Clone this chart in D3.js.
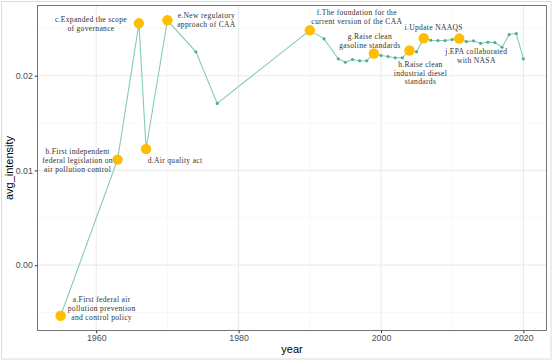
<!DOCTYPE html>
<html><head><meta charset="utf-8">
<script src="https://cdn.jsdelivr.net/npm/d3@7"></script>
<style>body{margin:0;background:#fff}svg{display:block}</style>
</head><body>
<svg id="c" width="553" height="361"></svg>
<script>
const years = [1955,1963,1966,1967,1970,1974,1977,1990,1992,1994,1995,1996,1997,1998,1999,2000,2001,2002,2003,2004,2005,2006,2007,2008,2009,2010,2011,2012,2013,2014,2015,2016,2017,2018,2019,2020];
const values = [-0.00534,0.01114,0.02553,0.01226,0.02585,0.02252,0.01707,0.02479,0.02389,0.02178,0.02142,0.02171,0.02157,0.02157,0.02234,0.02213,0.02202,0.02189,0.02189,0.02266,0.02252,0.02395,0.02374,0.02371,0.02371,0.02381,0.02392,0.02360,0.02368,0.02342,0.02353,0.02350,0.02300,0.02434,0.02445,0.02178];
const eventYears = [1955,1963,1966,1967,1970,1990,1999,2004,2006,2011];
const eventLabels = [
  ["a.First federal air","pollution prevention","and control policy"],
  ["b.First independent","federal legislation on","air pollution control"],
  ["c.Expanded the scope","of governance"],
  ["d.Air quality act"],
  ["e.New regulatory","approach of CAA"],
  ["f.The foundation for the","current version of the CAA"],
  ["g.Raise clean","gasoline standards"],
  ["h.Raise clean","industrial diesel","standards"],
  ["i.Update NAAQS"],
  ["j.EPA collaborated","with NASA"]
];
// label anchor offsets (px) relative to the event point: [dx, dy of first line center]
const labelOffsets = [[41,-16],[-40,-8],[-48,-4],[29,11],[39,-5],[47,-18],[-4,-17],[11,14],[10,-11],[17,13]];
const xTicks = [1960,1980,2000,2020];
const xMinor = [1970,1990,2010];
const yTicks = [0,0.01,0.02];
const yMinor = [-0.005,0.005,0.015,0.025];

const svg = d3.select("#c");
const L=37.5, R=546.5, T=5.5, B=330.5;
const xr = d3.extent(years), xe=(xr[1]-xr[0])*0.05;
const yr = d3.extent(values), ye=(yr[1]-yr[0])*0.05;
const x = d3.scaleLinear().domain([xr[0]-xe, xr[1]+xe]).range([L,R]);
const y = d3.scaleLinear().domain([yr[0]-ye, yr[1]+ye]).range([B,T]);

svg.append("rect").attr("x",1.5).attr("y",1.5).attr("width",549.5).attr("height",357.5)
  .attr("fill","#fff").attr("stroke","#dcdcdc");

const g = svg.append("g");
g.selectAll(".vm").data(xMinor).join("line").attr("x1",d=>x(d)).attr("x2",d=>x(d)).attr("y1",T).attr("y2",B).attr("stroke","#f2f2f2").attr("stroke-width",0.6);
g.selectAll(".hm").data(yMinor).join("line").attr("y1",d=>y(d)).attr("y2",d=>y(d)).attr("x1",L).attr("x2",R).attr("stroke","#f2f2f2").attr("stroke-width",0.6);
g.selectAll(".vM").data(xTicks).join("line").attr("x1",d=>x(d)).attr("x2",d=>x(d)).attr("y1",T).attr("y2",B).attr("stroke","#ebebeb").attr("stroke-width",1.1);
g.selectAll(".hM").data(yTicks).join("line").attr("y1",d=>y(d)).attr("y2",d=>y(d)).attr("x1",L).attr("x2",R).attr("stroke","#ebebeb").attr("stroke-width",1.1);

const pts = years.map((yy,i)=>({year:yy,v:values[i]}));
svg.append("path").datum(pts).attr("fill","none").attr("stroke","#84cbb7").attr("stroke-width",1.1)
  .attr("d",d3.line().x(d=>x(d.year)).y(d=>y(d.v)));
svg.selectAll(".sp").data(pts).join("circle").attr("cx",d=>x(d.year)).attr("cy",d=>y(d.v)).attr("r",1.6).attr("fill","#52ad8f");

const ev = eventYears.map((yy,i)=>({year:yy,v:values[years.indexOf(yy)],lab:eventLabels[i],off:labelOffsets[i]}));
svg.selectAll(".ep").data(ev).join("circle").attr("cx",d=>x(d.year)).attr("cy",d=>y(d.v)).attr("r",5.2).attr("fill","#ffbf00");

ev.forEach(d=>{
  const cx=x(d.year)+d.off[0], cy=y(d.v)+d.off[1];
  const t=svg.append("text").attr("text-anchor","middle").attr("font-family","'Liberation Serif','Times New Roman',serif")
    .attr("font-size",7.6).attr("fill","#333").attr("letter-spacing",0.3);
  d.lab.forEach((s,k)=>t.append("tspan").attr("x",cx).attr("y",cy+k*8.6+2.7).text(s));
});

svg.append("rect").attr("x",L).attr("y",T).attr("width",R-L).attr("height",B-T).attr("fill","none").attr("stroke","#555").attr("stroke-width",0.8);

const xa = svg.append("g").attr("transform",`translate(0,${B})`).call(d3.axisBottom(x).tickValues(xTicks).tickFormat(d3.format("d")).tickSize(2.7).tickPadding(2));
const ya = svg.append("g").attr("transform",`translate(${L},0)`).call(d3.axisLeft(y).tickValues(yTicks).tickFormat(d3.format(".2f")).tickSize(2.7).tickPadding(2));
[xa,ya].forEach(a=>{a.select(".domain").remove();a.selectAll("line").attr("stroke","#333");
  a.selectAll("text").attr("fill","#4d4d4d").attr("font-size",8.8).attr("font-family","'Liberation Sans',Arial,sans-serif");});

svg.append("text").attr("x",(L+R)/2).attr("y",353).attr("text-anchor","middle").attr("font-size",11).attr("font-family","'Liberation Sans',Arial,sans-serif").attr("fill","#000").text("year");
svg.append("text").attr("transform",`translate(13,${(T+B)/2}) rotate(-90)`).attr("text-anchor","middle").attr("font-size",11).attr("font-family","'Liberation Sans',Arial,sans-serif").attr("fill","#000").text("avg_intensity");
</script>
</body></html>
